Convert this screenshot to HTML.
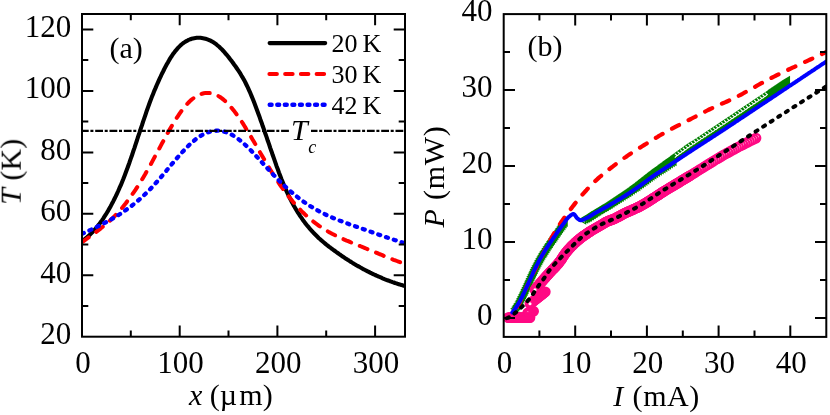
<!DOCTYPE html>
<html><head><meta charset="utf-8"><title>fig</title>
<style>html,body{margin:0;padding:0;background:#fff;}body{width:830px;height:415px;overflow:hidden;font-family:"Liberation Serif",serif;}svg{display:block;}</style></head>
<body>
<svg width="830" height="415" viewBox="0 0 830 415">
<rect width="830" height="415" fill="#fff"/>
<defs><filter id="gray" x="0" y="0" width="100%" height="100%" filterUnits="userSpaceOnUse" color-interpolation-filters="sRGB"><feColorMatrix type="saturate" values="0"/></filter><clipPath id="ca"><rect x="82.0" y="14.0" width="323.0" height="322.7"/></clipPath><clipPath id="cb"><rect x="503.7" y="14.1" width="322.6" height="322.8"/></clipPath></defs>
<g clip-path="url(#ca)" fill="none" stroke-linejoin="round">
<path d="M82.0 241.2 L83.2 240.3 L84.5 239.3 L85.7 238.3 L87.0 237.3 L88.2 236.2 L89.5 235.1 L90.7 233.9 L92.0 232.6 L93.2 231.3 L94.5 229.9 L95.7 228.5 L97.0 227.0 L98.2 225.4 L99.5 223.8 L100.7 222.1 L102.0 220.4 L103.2 218.6 L104.4 216.7 L105.7 214.7 L106.9 212.7 L108.2 210.6 L109.4 208.4 L110.7 206.2 L111.9 203.8 L113.2 201.4 L114.4 199.0 L115.7 196.4 L116.9 193.8 L118.2 191.0 L119.4 188.2 L120.7 185.4 L121.9 182.4 L123.2 179.3 L124.4 176.2 L125.6 173.0 L126.9 169.6 L128.1 166.2 L129.4 162.7 L130.6 159.1 L131.9 155.5 L133.1 151.8 L134.4 148.1 L135.6 144.3 L136.9 140.5 L138.1 136.7 L139.4 132.9 L140.6 129.1 L141.9 125.4 L143.1 121.6 L144.4 117.9 L145.6 114.3 L146.8 110.7 L148.1 107.1 L149.3 103.7 L150.6 100.3 L151.8 97.1 L153.1 93.9 L154.3 90.8 L155.6 87.9 L156.8 85.0 L158.1 82.1 L159.3 79.4 L160.6 76.7 L161.8 74.0 L163.1 71.5 L164.3 69.0 L165.6 66.6 L166.8 64.3 L168.1 62.1 L169.3 59.9 L170.5 57.9 L171.8 56.0 L173.0 54.1 L174.3 52.4 L175.5 50.8 L176.8 49.3 L178.0 47.9 L179.3 46.6 L180.5 45.4 L181.8 44.3 L183.0 43.3 L184.3 42.4 L185.5 41.6 L186.8 40.9 L188.0 40.2 L189.3 39.7 L190.5 39.2 L191.7 38.8 L193.0 38.4 L194.2 38.2 L195.5 38.0 L196.7 37.8 L198.0 37.8 L199.2 37.8 L200.5 37.8 L201.7 38.0 L203.0 38.2 L204.2 38.4 L205.5 38.7 L206.7 39.1 L208.0 39.6 L209.2 40.1 L210.5 40.7 L211.7 41.3 L212.9 42.0 L214.2 42.8 L215.4 43.7 L216.7 44.7 L217.9 45.7 L219.2 46.8 L220.4 48.0 L221.7 49.2 L222.9 50.5 L224.2 51.9 L225.4 53.3 L226.7 54.8 L227.9 56.3 L229.2 57.9 L230.4 59.5 L231.7 61.1 L232.9 62.8 L234.1 64.5 L235.4 66.2 L236.6 68.0 L237.9 69.9 L239.1 71.7 L240.4 73.7 L241.6 75.8 L242.9 77.9 L244.1 80.1 L245.4 82.5 L246.6 85.0 L247.9 87.6 L249.1 90.3 L250.4 93.2 L251.6 96.1 L252.9 99.2 L254.1 102.3 L255.3 105.5 L256.6 108.9 L257.8 112.2 L259.1 115.7 L260.3 119.2 L261.6 122.7 L262.8 126.3 L264.1 129.9 L265.3 133.5 L266.6 137.1 L267.8 140.8 L269.1 144.4 L270.3 148.1 L271.6 151.7 L272.8 155.3 L274.1 158.9 L275.3 162.4 L276.5 165.9 L277.8 169.3 L279.0 172.7 L280.3 176.0 L281.5 179.2 L282.8 182.3 L284.0 185.4 L285.3 188.3 L286.5 191.1 L287.8 193.9 L289.0 196.5 L290.3 199.0 L291.5 201.4 L292.8 203.7 L294.0 206.0 L295.3 208.2 L296.5 210.2 L297.7 212.3 L299.0 214.2 L300.2 216.1 L301.5 217.9 L302.7 219.7 L304.0 221.4 L305.2 223.1 L306.5 224.7 L307.7 226.2 L309.0 227.7 L310.2 229.2 L311.5 230.6 L312.7 231.9 L314.0 233.3 L315.2 234.5 L316.5 235.8 L317.7 237.0 L318.9 238.2 L320.2 239.3 L321.4 240.4 L322.7 241.5 L323.9 242.5 L325.2 243.6 L326.4 244.6 L327.7 245.6 L328.9 246.6 L330.2 247.5 L331.4 248.5 L332.7 249.4 L333.9 250.3 L335.2 251.2 L336.4 252.1 L337.7 253.0 L338.9 253.9 L340.2 254.8 L341.4 255.6 L342.6 256.5 L343.9 257.3 L345.1 258.2 L346.4 259.0 L347.6 259.8 L348.9 260.6 L350.1 261.4 L351.4 262.1 L352.6 262.9 L353.9 263.7 L355.1 264.4 L356.4 265.2 L357.6 265.9 L358.9 266.6 L360.1 267.3 L361.4 268.0 L362.6 268.7 L363.8 269.4 L365.1 270.0 L366.3 270.7 L367.6 271.3 L368.8 271.9 L370.1 272.6 L371.3 273.2 L372.6 273.8 L373.8 274.4 L375.1 275.0 L376.3 275.5 L377.6 276.1 L378.8 276.7 L380.1 277.2 L381.3 277.7 L382.6 278.3 L383.8 278.8 L385.0 279.3 L386.3 279.8 L387.5 280.3 L388.8 280.7 L390.0 281.2 L391.3 281.6 L392.5 282.1 L393.8 282.5 L395.0 283.0 L396.3 283.4 L397.5 283.8 L398.8 284.2 L400.0 284.6 L401.3 284.9 L402.5 285.3 L403.8 285.7 L405.0 286.0" stroke="#000" stroke-width="4.1"/>
<path d="M82.0 242.2 L83.6 241.1 L85.2 239.9 L86.9 238.7 L88.5 237.5 L90.1 236.4 L91.7 235.2 L93.4 234.0 L95.0 232.8 L96.6 231.6 L98.2 230.4 L99.9 229.1 L101.5 227.8 L103.1 226.5 L104.7 225.2 L106.3 223.8 L108.0 222.4 L109.6 220.9 L111.2 219.4 L112.8 217.9 L114.5 216.3 L116.1 214.6 L117.7 212.9 L119.3 211.1 L121.0 209.2 L122.6 207.3 L124.2 205.3 L125.8 203.3 L127.4 201.1 L129.1 199.0 L130.7 196.7 L132.3 194.4 L133.9 192.1 L135.6 189.7 L137.2 187.2 L138.8 184.6 L140.4 182.1 L142.1 179.4 L143.7 176.7 L145.3 174.0 L146.9 171.1 L148.5 168.3 L150.2 165.4 L151.8 162.4 L153.4 159.4 L155.0 156.4 L156.7 153.4 L158.3 150.4 L159.9 147.4 L161.5 144.3 L163.2 141.3 L164.8 138.4 L166.4 135.4 L168.0 132.5 L169.6 129.6 L171.3 126.8 L172.9 124.1 L174.5 121.4 L176.1 118.8 L177.8 116.3 L179.4 113.9 L181.0 111.6 L182.6 109.4 L184.3 107.4 L185.9 105.4 L187.5 103.6 L189.1 102.0 L190.7 100.4 L192.4 99.0 L194.0 97.8 L195.6 96.7 L197.2 95.7 L198.9 94.9 L200.5 94.2 L202.1 93.7 L203.7 93.3 L205.4 93.1 L207.0 92.9 L208.6 93.0 L210.2 93.1 L211.8 93.4 L213.5 93.9 L215.1 94.5 L216.7 95.2 L218.3 96.0 L220.0 97.0 L221.6 98.1 L223.2 99.4 L224.8 100.7 L226.5 102.3 L228.1 103.9 L229.7 105.6 L231.3 107.5 L232.9 109.5 L234.6 111.6 L236.2 113.7 L237.8 116.0 L239.4 118.3 L241.1 120.7 L242.7 123.2 L244.3 125.8 L245.9 128.4 L247.6 131.0 L249.2 133.7 L250.8 136.4 L252.4 139.2 L254.1 142.0 L255.7 144.8 L257.3 147.6 L258.9 150.4 L260.5 153.2 L262.2 156.1 L263.8 158.8 L265.4 161.6 L267.0 164.4 L268.7 167.1 L270.3 169.8 L271.9 172.4 L273.5 175.0 L275.2 177.5 L276.8 180.0 L278.4 182.4 L280.0 184.8 L281.6 187.1 L283.3 189.3 L284.9 191.6 L286.5 193.7 L288.1 195.8 L289.8 197.8 L291.4 199.8 L293.0 201.8 L294.6 203.6 L296.3 205.5 L297.9 207.3 L299.5 209.0 L301.1 210.7 L302.7 212.3 L304.4 213.8 L306.0 215.4 L307.6 216.8 L309.2 218.3 L310.9 219.6 L312.5 220.9 L314.1 222.2 L315.7 223.4 L317.4 224.6 L319.0 225.8 L320.6 226.9 L322.2 228.0 L323.8 229.0 L325.5 230.0 L327.1 230.9 L328.7 231.9 L330.3 232.8 L332.0 233.7 L333.6 234.5 L335.2 235.3 L336.8 236.1 L338.5 236.9 L340.1 237.7 L341.7 238.4 L343.3 239.1 L344.9 239.9 L346.6 240.6 L348.2 241.2 L349.8 241.9 L351.4 242.6 L353.1 243.2 L354.7 243.9 L356.3 244.6 L357.9 245.2 L359.6 245.9 L361.2 246.5 L362.8 247.2 L364.4 247.8 L366.0 248.5 L367.7 249.2 L369.3 249.8 L370.9 250.5 L372.5 251.2 L374.2 251.8 L375.8 252.5 L377.4 253.2 L379.0 253.9 L380.7 254.5 L382.3 255.2 L383.9 255.9 L385.5 256.5 L387.1 257.2 L388.8 257.9 L390.4 258.5 L392.0 259.1 L393.6 259.8 L395.3 260.4 L396.9 261.0 L398.5 261.6 L400.1 262.2 L401.8 262.8 L403.4 263.4 L405.0 263.9" stroke="#ff0000" stroke-width="4.0" stroke-linecap="round" stroke-dasharray="8.3 9.3"/>
<path d="M82.0 233.9 L83.6 233.1 L85.2 232.4 L86.9 231.6 L88.5 230.9 L90.1 230.1 L91.7 229.4 L93.4 228.6 L95.0 227.8 L96.6 227.0 L98.2 226.2 L99.9 225.4 L101.5 224.6 L103.1 223.8 L104.7 222.9 L106.3 222.1 L108.0 221.2 L109.6 220.3 L111.2 219.4 L112.8 218.4 L114.5 217.5 L116.1 216.5 L117.7 215.5 L119.3 214.5 L121.0 213.4 L122.6 212.3 L124.2 211.2 L125.8 210.1 L127.4 209.0 L129.1 207.8 L130.7 206.5 L132.3 205.3 L133.9 204.0 L135.6 202.7 L137.2 201.3 L138.8 200.0 L140.4 198.5 L142.1 197.1 L143.7 195.6 L145.3 194.0 L146.9 192.5 L148.5 190.8 L150.2 189.2 L151.8 187.5 L153.4 185.7 L155.0 183.9 L156.7 182.1 L158.3 180.2 L159.9 178.4 L161.5 176.5 L163.2 174.5 L164.8 172.6 L166.4 170.7 L168.0 168.7 L169.6 166.8 L171.3 164.8 L172.9 162.9 L174.5 161.0 L176.1 159.1 L177.8 157.2 L179.4 155.3 L181.0 153.5 L182.6 151.8 L184.3 150.0 L185.9 148.3 L187.5 146.7 L189.1 145.1 L190.7 143.6 L192.4 142.1 L194.0 140.8 L195.6 139.4 L197.2 138.2 L198.9 137.1 L200.5 136.0 L202.1 135.0 L203.7 134.1 L205.4 133.4 L207.0 132.7 L208.6 132.1 L210.2 131.6 L211.8 131.3 L213.5 131.0 L215.1 130.8 L216.7 130.7 L218.3 130.7 L220.0 130.8 L221.6 131.1 L223.2 131.4 L224.8 131.8 L226.5 132.3 L228.1 132.9 L229.7 133.7 L231.3 134.5 L232.9 135.4 L234.6 136.4 L236.2 137.5 L237.8 138.6 L239.4 139.9 L241.1 141.2 L242.7 142.6 L244.3 144.0 L245.9 145.5 L247.6 147.1 L249.2 148.7 L250.8 150.3 L252.4 152.0 L254.1 153.7 L255.7 155.5 L257.3 157.2 L258.9 159.0 L260.5 160.8 L262.2 162.6 L263.8 164.4 L265.4 166.1 L267.0 167.9 L268.7 169.7 L270.3 171.4 L271.9 173.2 L273.5 174.9 L275.2 176.6 L276.8 178.2 L278.4 179.9 L280.0 181.5 L281.6 183.1 L283.3 184.6 L284.9 186.2 L286.5 187.7 L288.1 189.2 L289.8 190.6 L291.4 192.1 L293.0 193.4 L294.6 194.8 L296.3 196.1 L297.9 197.4 L299.5 198.7 L301.1 199.9 L302.7 201.1 L304.4 202.3 L306.0 203.4 L307.6 204.5 L309.2 205.5 L310.9 206.5 L312.5 207.5 L314.1 208.5 L315.7 209.4 L317.4 210.3 L319.0 211.2 L320.6 212.1 L322.2 212.9 L323.8 213.7 L325.5 214.5 L327.1 215.3 L328.7 216.0 L330.3 216.7 L332.0 217.5 L333.6 218.2 L335.2 218.8 L336.8 219.5 L338.5 220.1 L340.1 220.8 L341.7 221.4 L343.3 222.0 L344.9 222.6 L346.6 223.2 L348.2 223.8 L349.8 224.4 L351.4 225.0 L353.1 225.5 L354.7 226.1 L356.3 226.7 L357.9 227.2 L359.6 227.8 L361.2 228.4 L362.8 228.9 L364.4 229.5 L366.0 230.1 L367.7 230.7 L369.3 231.2 L370.9 231.8 L372.5 232.4 L374.2 233.0 L375.8 233.5 L377.4 234.1 L379.0 234.7 L380.7 235.3 L382.3 235.8 L383.9 236.4 L385.5 237.0 L387.1 237.5 L388.8 238.1 L390.4 238.6 L392.0 239.2 L393.6 239.7 L395.3 240.2 L396.9 240.8 L398.5 241.3 L400.1 241.8 L401.8 242.3 L403.4 242.8 L405.0 243.3" stroke="#0000ff" stroke-width="4.3" stroke-linecap="round" stroke-dasharray="2.0 6.2"/>
<path d="M80.9 130.9 H405.0" stroke="#000" stroke-width="2.2" stroke-dasharray="7.8 1.7 3 1.8"/>
</g>
<g fill="none" stroke-linecap="round">
<path d="M269.6 43.1 H325.2" stroke="#000" stroke-width="4.1"/>
<path d="M269.4 74.0 H325.2" stroke="#ff0000" stroke-width="4.0" stroke-dasharray="7.5 8.24"/>
<path d="M269.7 104.7 H325.2" stroke="#0000ff" stroke-width="4.4" stroke-dasharray="1.9 5.67"/>
</g>
<g stroke="#000" stroke-width="2.0" fill="none" stroke-linecap="butt">
<rect x="82.0" y="14.0" width="323.0" height="322.7"/>
<path d="M179.7 14.0 v11.3 M179.7 336.7 v-11.3"/>
<path d="M277.4 14.0 v11.3 M277.4 336.7 v-11.3"/>
<path d="M375.1 14.0 v11.3 M375.1 336.7 v-11.3"/>
<path d="M130.8 14.0 v6.3 M130.8 336.7 v-6.3"/>
<path d="M228.5 14.0 v6.3 M228.5 336.7 v-6.3"/>
<path d="M326.2 14.0 v6.3 M326.2 336.7 v-6.3"/>
<path d="M82.0 275.3 h11.3 M405.0 275.3 h-11.3"/>
<path d="M82.0 213.8 h11.3 M405.0 213.8 h-11.3"/>
<path d="M82.0 152.4 h11.3 M405.0 152.4 h-11.3"/>
<path d="M82.0 90.9 h11.3 M405.0 90.9 h-11.3"/>
<path d="M82.0 29.4 h11.3 M405.0 29.4 h-11.3"/>
<path d="M82.0 306.1 h6.3 M405.0 306.1 h-6.3"/>
<path d="M82.0 244.6 h6.3 M405.0 244.6 h-6.3"/>
<path d="M82.0 183.1 h6.3 M405.0 183.1 h-6.3"/>
<path d="M82.0 121.6 h6.3 M405.0 121.6 h-6.3"/>
<path d="M82.0 60.1 h6.3 M405.0 60.1 h-6.3"/>
</g>
<g clip-path="url(#cb)" fill="none" stroke-linejoin="round">
<path d="M511.4 308.7 L517.6 305.1 L517.6 312.3 ZM512.5 307.1 L518.7 303.5 L518.7 310.7 ZM513.6 305.4 L519.8 301.8 L519.8 309.0 ZM514.6 303.7 L520.8 300.1 L520.8 307.3 ZM515.6 302.0 L521.8 298.4 L521.8 305.6 ZM516.5 300.2 L522.7 296.6 L522.7 303.8 ZM517.4 298.4 L523.7 294.8 L523.7 302.0 ZM518.3 296.6 L524.5 293.0 L524.5 300.2 ZM519.2 294.8 L525.4 291.2 L525.4 298.4 ZM520.0 293.0 L526.2 289.4 L526.2 296.6 ZM520.9 291.2 L527.1 287.6 L527.1 294.8 ZM521.7 289.4 L527.9 285.8 L527.9 293.0 ZM522.6 287.6 L528.8 284.0 L528.8 291.2 ZM523.4 285.8 L529.6 282.2 L529.6 289.4 ZM524.3 283.9 L530.5 280.3 L530.5 287.5 ZM525.1 282.1 L531.3 278.5 L531.3 285.7 ZM525.9 280.3 L532.1 276.7 L532.1 283.9 ZM526.7 278.5 L532.9 274.9 L532.9 282.1 ZM527.5 276.6 L533.8 273.0 L533.8 280.2 ZM528.4 274.8 L534.6 271.2 L534.6 278.4 ZM529.2 273.0 L535.4 269.4 L535.4 276.6 ZM530.0 271.2 L536.3 267.6 L536.3 274.8 ZM530.9 269.4 L537.1 265.8 L537.1 273.0 ZM531.8 267.6 L538.0 264.0 L538.0 271.2 ZM532.7 265.8 L538.9 262.2 L538.9 269.4 ZM533.6 264.0 L539.8 260.4 L539.8 267.6 ZM534.5 262.2 L540.7 258.6 L540.7 265.8 ZM535.4 260.5 L541.7 256.9 L541.7 264.1 ZM536.4 258.7 L542.6 255.1 L542.6 262.3 ZM537.4 257.0 L543.6 253.4 L543.6 260.6 ZM538.4 255.3 L544.6 251.7 L544.6 258.9 ZM539.4 253.6 L545.7 250.0 L545.7 257.2 ZM540.5 251.9 L546.7 248.3 L546.7 255.5 ZM541.6 250.2 L547.8 246.6 L547.8 253.8 ZM542.6 248.5 L548.9 244.9 L548.9 252.1 ZM543.7 246.8 L550.0 243.2 L550.0 250.4 ZM544.8 245.1 L551.1 241.5 L551.1 248.7 ZM545.9 243.5 L552.2 239.9 L552.2 247.1 ZM547.1 241.8 L553.3 238.2 L553.3 245.4 ZM548.2 240.2 L554.4 236.6 L554.4 243.8 ZM549.3 238.5 L555.6 234.9 L555.6 242.1 ZM550.5 236.9 L556.7 233.3 L556.7 240.5 ZM551.6 235.2 L557.8 231.6 L557.8 238.8 ZM552.8 233.6 L559.0 230.0 L559.0 237.2 ZM553.9 232.0 L560.1 228.4 L560.1 235.6 ZM555.1 230.3 L561.3 226.7 L561.3 233.9 ZM556.2 228.7 L562.4 225.1 L562.4 232.3 ZM557.4 227.1 L563.6 223.5 L563.6 230.7 ZM558.6 225.4 L564.8 221.8 L564.8 229.0 ZM559.7 223.8 L566.0 220.2 L566.0 227.4 ZM560.9 222.2 L567.1 218.6 L567.1 225.8 ZM579.4 220.1 L585.6 216.5 L585.6 223.7 ZM581.3 219.1 L587.5 215.5 L587.5 222.7 ZM583.2 218.0 L589.4 214.4 L589.4 221.6 ZM585.1 216.9 L591.3 213.3 L591.3 220.5 ZM586.9 215.7 L593.2 212.1 L593.2 219.3 ZM588.8 214.4 L595.0 210.8 L595.0 218.0 ZM590.6 213.2 L596.8 209.6 L596.8 216.8 ZM592.4 212.0 L598.7 208.4 L598.7 215.6 ZM594.3 210.9 L600.5 207.3 L600.5 214.5 ZM596.2 209.7 L602.4 206.1 L602.4 213.3 ZM598.1 208.6 L604.3 205.0 L604.3 212.2 ZM600.0 207.5 L606.2 203.9 L606.2 211.1 ZM601.9 206.4 L608.1 202.8 L608.1 210.0 ZM603.8 205.3 L610.0 201.7 L610.0 208.9 ZM605.7 204.2 L611.9 200.6 L611.9 207.8 ZM607.6 203.0 L613.8 199.4 L613.8 206.6 ZM609.4 201.9 L615.7 198.3 L615.7 205.5 ZM611.3 200.7 L617.5 197.1 L617.5 204.3 ZM613.2 199.6 L619.4 196.0 L619.4 203.2 ZM615.0 198.4 L621.3 194.8 L621.3 202.0 ZM616.9 197.2 L623.1 193.6 L623.1 200.8 ZM618.8 196.1 L625.0 192.5 L625.0 199.7 ZM620.6 194.9 L626.9 191.3 L626.9 198.5 ZM622.5 193.7 L628.7 190.1 L628.7 197.3 ZM624.3 192.5 L630.6 188.9 L630.6 196.1 ZM626.2 191.3 L632.4 187.7 L632.4 194.9 ZM628.0 190.1 L634.2 186.5 L634.2 193.7 ZM629.8 188.9 L636.1 185.3 L636.1 192.5 ZM631.7 187.6 L637.9 184.0 L637.9 191.2 ZM633.5 186.4 L639.7 182.8 L639.7 190.0 ZM635.3 185.1 L641.5 181.5 L641.5 188.7 ZM637.0 183.8 L643.3 180.2 L643.3 187.4 ZM638.8 182.5 L645.0 178.9 L645.0 186.1 ZM640.6 181.2 L646.8 177.6 L646.8 184.8 ZM642.4 179.9 L648.6 176.3 L648.6 183.5 ZM644.1 178.6 L650.4 175.0 L650.4 182.2 ZM645.9 177.3 L652.1 173.7 L652.1 180.9 ZM647.7 176.0 L653.9 172.4 L653.9 179.6 ZM649.5 174.8 L655.7 171.2 L655.7 178.4 ZM651.3 173.5 L657.5 169.9 L657.5 177.1 ZM653.1 172.3 L659.4 168.7 L659.4 175.9 ZM655.0 171.1 L661.2 167.5 L661.2 174.7 ZM656.8 169.9 L663.1 166.3 L663.1 173.5 ZM658.7 168.7 L664.9 165.1 L664.9 172.3 ZM660.5 167.5 L666.7 163.9 L666.7 171.1 ZM662.3 166.3 L668.6 162.7 L668.6 169.9 ZM664.2 165.0 L670.4 161.4 L670.4 168.6 ZM666.0 163.8 L672.2 160.2 L672.2 167.4 ZM667.8 162.6 L674.1 159.0 L674.1 166.2 ZM669.7 161.4 L675.9 157.8 L675.9 165.0 Z" stroke="#008000" stroke-width="1.3" fill="#fff" stroke-linejoin="miter"/>
<path d="M783.2 80.5 L789.4 76.9 L789.4 84.1 ZM782.4 81.0 L788.6 77.4 L788.6 84.6 ZM781.7 81.6 L787.9 78.0 L787.9 85.2 ZM780.9 82.1 L787.2 78.5 L787.2 85.7 ZM780.2 82.6 L786.4 79.0 L786.4 86.2 ZM779.4 83.1 L785.7 79.5 L785.7 86.7 ZM778.7 83.6 L784.9 80.0 L784.9 87.2 ZM778.0 84.1 L784.2 80.5 L784.2 87.7 ZM777.2 84.6 L783.4 81.0 L783.4 88.2 ZM776.5 85.1 L782.7 81.5 L782.7 88.7 ZM775.7 85.6 L781.9 82.0 L781.9 89.2 ZM775.0 86.1 L781.2 82.5 L781.2 89.7 ZM774.2 86.6 L780.5 83.0 L780.5 90.2 ZM773.5 87.1 L779.7 83.5 L779.7 90.7 ZM772.7 87.6 L779.0 84.0 L779.0 91.2 ZM772.0 88.1 L778.2 84.5 L778.2 91.7 ZM771.3 88.6 L777.5 85.0 L777.5 92.2 ZM770.5 89.1 L776.7 85.5 L776.7 92.7 ZM769.8 89.6 L776.0 86.0 L776.0 93.2 ZM769.0 90.1 L775.2 86.5 L775.2 93.7 ZM768.3 90.7 L774.5 87.1 L774.5 94.3 ZM767.5 91.2 L773.7 87.6 L773.7 94.8 ZM766.8 91.7 L773.0 88.1 L773.0 95.3 ZM766.0 92.2 L772.3 88.6 L772.3 95.8 ZM765.3 92.7 L771.5 89.1 L771.5 96.3 ZM764.5 93.2 L770.8 89.6 L770.8 96.8 ZM763.8 93.7 L770.0 90.1 L770.0 97.3 ZM763.0 94.2 L769.3 90.6 L769.3 97.8 ZM762.3 94.7 L768.5 91.1 L768.5 98.3 ZM761.6 95.2 L767.8 91.6 L767.8 98.8 ZM760.8 95.7 L767.0 92.1 L767.0 99.3 ZM760.1 96.2 L766.3 92.6 L766.3 99.8 ZM759.3 96.7 L765.5 93.1 L765.5 100.3 ZM758.6 97.2 L764.8 93.6 L764.8 100.8 ZM757.8 97.7 L764.0 94.1 L764.0 101.3 ZM757.1 98.2 L763.3 94.6 L763.3 101.8 ZM756.3 98.7 L762.6 95.1 L762.6 102.3 ZM755.6 99.2 L761.8 95.6 L761.8 102.8 ZM754.8 99.7 L761.1 96.1 L761.1 103.3 ZM754.1 100.2 L760.3 96.6 L760.3 103.8 ZM753.3 100.7 L759.6 97.1 L759.6 104.3 ZM752.6 101.2 L758.8 97.6 L758.8 104.8 ZM751.9 101.7 L758.1 98.1 L758.1 105.3 ZM751.1 102.2 L757.3 98.6 L757.3 105.8 ZM750.4 102.7 L756.6 99.1 L756.6 106.3 ZM749.6 103.2 L755.8 99.6 L755.8 106.8 ZM748.9 103.7 L755.1 100.1 L755.1 107.3 ZM748.1 104.2 L754.4 100.6 L754.4 107.8 ZM747.4 104.8 L753.6 101.2 L753.6 108.4 ZM746.6 105.3 L752.9 101.7 L752.9 108.9 ZM745.9 105.8 L752.1 102.2 L752.1 109.4 ZM745.1 106.3 L751.4 102.7 L751.4 109.9 ZM744.4 106.8 L750.6 103.2 L750.6 110.4 ZM743.7 107.3 L749.9 103.7 L749.9 110.9 ZM742.9 107.8 L749.1 104.2 L749.1 111.4 ZM742.2 108.3 L748.4 104.7 L748.4 111.9 ZM741.4 108.8 L747.6 105.2 L747.6 112.4 ZM740.7 109.3 L746.9 105.7 L746.9 112.9 ZM739.9 109.8 L746.2 106.2 L746.2 113.4 ZM739.2 110.3 L745.4 106.7 L745.4 113.9 ZM738.4 110.8 L744.7 107.2 L744.7 114.4 ZM737.7 111.3 L743.9 107.7 L743.9 114.9 ZM736.9 111.8 L743.2 108.2 L743.2 115.4 ZM736.2 112.3 L742.4 108.7 L742.4 115.9 ZM735.4 112.8 L741.7 109.2 L741.7 116.4 ZM734.7 113.3 L740.9 109.7 L740.9 116.9 ZM734.0 113.8 L740.2 110.2 L740.2 117.4 ZM733.2 114.3 L739.4 110.7 L739.4 117.9 ZM732.5 114.8 L738.7 111.2 L738.7 118.4 ZM731.7 115.3 L737.9 111.7 L737.9 118.9 ZM731.0 115.8 L737.2 112.2 L737.2 119.4 ZM730.2 116.3 L736.4 112.7 L736.4 119.9 ZM729.5 116.8 L735.7 113.2 L735.7 120.4 ZM728.7 117.3 L735.0 113.7 L735.0 120.9 ZM728.0 117.8 L734.2 114.2 L734.2 121.4 ZM727.2 118.3 L733.5 114.7 L733.5 121.9 ZM726.5 118.8 L732.7 115.2 L732.7 122.4 ZM725.7 119.3 L732.0 115.7 L732.0 122.9 ZM725.0 119.8 L731.2 116.2 L731.2 123.4 ZM724.2 120.3 L730.5 116.7 L730.5 123.9 ZM723.5 120.8 L729.7 117.2 L729.7 124.4 ZM722.7 121.3 L729.0 117.7 L729.0 124.9 ZM722.0 121.8 L728.2 118.2 L728.2 125.4 ZM721.2 122.3 L727.5 118.7 L727.5 125.9 ZM720.5 122.8 L726.7 119.2 L726.7 126.4 ZM719.7 123.3 L726.0 119.7 L726.0 126.9 ZM719.0 123.8 L725.2 120.2 L725.2 127.4 ZM718.3 124.3 L724.5 120.7 L724.5 127.9 ZM717.5 124.8 L723.7 121.2 L723.7 128.4 ZM716.8 125.3 L723.0 121.7 L723.0 128.9 ZM716.0 125.8 L722.2 122.2 L722.2 129.4 ZM715.3 126.3 L721.5 122.7 L721.5 129.9 ZM714.5 126.8 L720.7 123.2 L720.7 130.4 ZM713.8 127.3 L720.0 123.7 L720.0 130.9 ZM713.0 127.8 L719.2 124.2 L719.2 131.4 ZM712.3 128.3 L718.5 124.7 L718.5 131.9 ZM711.5 128.8 L717.7 125.2 L717.7 132.4 ZM710.8 129.3 L717.0 125.7 L717.0 132.9 ZM710.0 129.8 L716.2 126.2 L716.2 133.4 ZM709.2 130.3 L715.5 126.7 L715.5 133.9 ZM708.5 130.8 L714.7 127.2 L714.7 134.4 ZM707.7 131.3 L714.0 127.7 L714.0 134.9 ZM707.0 131.8 L713.2 128.2 L713.2 135.4 ZM706.2 132.3 L712.5 128.7 L712.5 135.9 ZM705.5 132.8 L711.7 129.2 L711.7 136.4 ZM704.7 133.3 L711.0 129.7 L711.0 136.9 ZM704.0 133.8 L710.2 130.2 L710.2 137.4 ZM703.2 134.3 L709.5 130.7 L709.5 137.9 ZM702.5 134.7 L708.7 131.1 L708.7 138.3 ZM701.7 135.2 L708.0 131.6 L708.0 138.8 ZM701.0 135.7 L707.2 132.1 L707.2 139.3 ZM700.2 136.2 L706.4 132.6 L706.4 139.8 ZM699.5 136.7 L705.7 133.1 L705.7 140.3 ZM698.7 137.2 L704.9 133.6 L704.9 140.8 ZM698.0 137.7 L704.2 134.1 L704.2 141.3 ZM697.2 138.2 L703.4 134.6 L703.4 141.8 ZM696.5 138.7 L702.7 135.1 L702.7 142.3 ZM695.7 139.2 L701.9 135.6 L701.9 142.8 ZM694.9 139.7 L701.2 136.1 L701.2 143.3 ZM694.2 140.2 L700.4 136.6 L700.4 143.8 ZM693.4 140.7 L699.7 137.1 L699.7 144.3 ZM692.7 141.2 L698.9 137.6 L698.9 144.8 ZM691.9 141.7 L698.2 138.1 L698.2 145.3 ZM691.2 142.2 L697.4 138.6 L697.4 145.8 ZM690.4 142.6 L696.7 139.0 L696.7 146.2 ZM689.7 143.1 L695.9 139.5 L695.9 146.7 ZM688.9 143.6 L695.2 140.0 L695.2 147.2 ZM688.2 144.1 L694.4 140.5 L694.4 147.7 ZM687.4 144.6 L693.7 141.0 L693.7 148.2 ZM686.7 145.1 L692.9 141.5 L692.9 148.7 ZM685.9 145.6 L692.2 142.0 L692.2 149.2 ZM685.2 146.1 L691.4 142.5 L691.4 149.7 ZM684.5 146.7 L690.7 143.1 L690.7 150.3 ZM683.7 147.2 L690.0 143.6 L690.0 150.8 ZM683.0 147.7 L689.2 144.1 L689.2 151.3 ZM682.3 148.2 L688.5 144.6 L688.5 151.8 ZM681.5 148.8 L687.8 145.2 L687.8 152.4 ZM680.8 149.3 L687.0 145.7 L687.0 152.9 ZM680.1 149.8 L686.3 146.2 L686.3 153.4 ZM679.4 150.3 L685.6 146.7 L685.6 153.9 ZM678.6 150.9 L684.8 147.3 L684.8 154.5 ZM677.9 151.4 L684.1 147.8 L684.1 155.0 ZM677.2 151.9 L683.4 148.3 L683.4 155.5 ZM676.4 152.4 L682.7 148.8 L682.7 156.0 ZM675.7 153.0 L681.9 149.4 L681.9 156.6 ZM675.0 153.5 L681.2 149.9 L681.2 157.1 ZM674.2 154.0 L680.5 150.4 L680.5 157.6 ZM673.5 154.6 L679.7 151.0 L679.7 158.2 ZM672.8 155.1 L679.0 151.5 L679.0 158.7 ZM672.1 155.6 L678.3 152.0 L678.3 159.2 ZM671.3 156.1 L677.6 152.5 L677.6 159.7 ZM670.6 156.7 L676.8 153.1 L676.8 160.3 ZM669.9 157.2 L676.1 153.6 L676.1 160.8 ZM669.1 157.7 L675.4 154.1 L675.4 161.3 ZM668.4 158.2 L674.6 154.6 L674.6 161.8 ZM667.7 158.8 L673.9 155.2 L673.9 162.4 ZM666.9 159.3 L673.2 155.7 L673.2 162.9 ZM666.2 159.8 L672.4 156.2 L672.4 163.4 ZM665.5 160.4 L671.7 156.8 L671.7 164.0 ZM664.8 160.9 L671.0 157.3 L671.0 164.5 ZM664.0 161.4 L670.3 157.8 L670.3 165.0 ZM663.3 161.9 L669.5 158.3 L669.5 165.5 ZM662.6 162.5 L668.8 158.9 L668.8 166.1 ZM661.8 163.0 L668.1 159.4 L668.1 166.6 ZM661.1 163.5 L667.3 159.9 L667.3 167.1 ZM660.4 164.1 L666.6 160.5 L666.6 167.7 ZM659.7 164.6 L665.9 161.0 L665.9 168.2 ZM658.9 165.1 L665.2 161.5 L665.2 168.7 ZM658.2 165.7 L664.4 162.1 L664.4 169.3 ZM657.5 166.2 L663.7 162.6 L663.7 169.8 ZM656.8 166.7 L663.0 163.1 L663.0 170.3 ZM656.0 167.2 L662.3 163.6 L662.3 170.8 ZM655.3 167.8 L661.5 164.2 L661.5 171.4 ZM654.6 168.3 L660.8 164.7 L660.8 171.9 ZM653.8 168.8 L660.1 165.2 L660.1 172.4 ZM653.1 169.4 L659.4 165.8 L659.4 173.0 ZM652.4 169.9 L658.6 166.3 L658.6 173.5 ZM651.7 170.4 L657.9 166.8 L657.9 174.0 ZM651.0 171.0 L657.2 167.4 L657.2 174.6 ZM650.2 171.5 L656.5 167.9 L656.5 175.1 ZM649.5 172.1 L655.7 168.5 L655.7 175.7 ZM648.8 172.6 L655.0 169.0 L655.0 176.2 ZM648.1 173.2 L654.3 169.6 L654.3 176.8 ZM647.4 173.7 L653.6 170.1 L653.6 177.3 ZM646.7 174.3 L652.9 170.7 L652.9 177.9 ZM646.0 174.8 L652.2 171.2 L652.2 178.4 ZM645.3 175.4 L651.5 171.8 L651.5 179.0 ZM644.6 175.9 L650.8 172.3 L650.8 179.5 ZM643.9 176.5 L650.1 172.9 L650.1 180.1 ZM643.1 177.1 L649.4 173.5 L649.4 180.7 ZM642.4 177.6 L648.7 174.0 L648.7 181.2 ZM641.7 178.2 L648.0 174.6 L648.0 181.8 ZM641.0 178.7 L647.3 175.1 L647.3 182.3 ZM640.3 179.3 L646.5 175.7 L646.5 182.9 ZM639.6 179.8 L645.8 176.2 L645.8 183.4 ZM638.9 180.4 L645.1 176.8 L645.1 184.0 ZM638.2 181.0 L644.4 177.4 L644.4 184.6 ZM637.5 181.5 L643.7 177.9 L643.7 185.1 ZM636.8 182.1 L643.0 178.5 L643.0 185.7 ZM636.1 182.6 L642.3 179.0 L642.3 186.2 ZM635.4 183.2 L641.6 179.6 L641.6 186.8 ZM634.6 183.7 L640.9 180.1 L640.9 187.3 ZM633.9 184.3 L640.1 180.7 L640.1 187.9 ZM633.2 184.8 L639.4 181.2 L639.4 188.4 ZM632.5 185.3 L638.7 181.7 L638.7 188.9 ZM631.8 185.9 L638.0 182.3 L638.0 189.5 ZM631.0 186.4 L637.3 182.8 L637.3 190.0 ZM630.3 186.9 L636.5 183.3 L636.5 190.5 ZM629.6 187.5 L635.8 183.9 L635.8 191.1 ZM628.8 188.0 L635.1 184.4 L635.1 191.6 ZM628.1 188.5 L634.3 184.9 L634.3 192.1 ZM627.4 189.0 L633.6 185.4 L633.6 192.6 ZM626.7 189.6 L632.9 186.0 L632.9 193.2 ZM625.9 190.1 L632.1 186.5 L632.1 193.7 ZM625.2 190.6 L631.4 187.0 L631.4 194.2 ZM624.4 191.1 L630.7 187.5 L630.7 194.7 ZM623.7 191.6 L629.9 188.0 L629.9 195.2 ZM623.0 192.1 L629.2 188.5 L629.2 195.7 ZM622.2 192.6 L628.4 189.0 L628.4 196.2 ZM621.5 193.1 L627.7 189.5 L627.7 196.7 ZM620.7 193.6 L627.0 190.0 L627.0 197.2 ZM620.0 194.2 L626.2 190.6 L626.2 197.8 ZM619.2 194.6 L625.5 191.0 L625.5 198.2 ZM618.5 195.1 L624.7 191.5 L624.7 198.7 ZM617.7 195.6 L624.0 192.0 L624.0 199.2 ZM617.0 196.1 L623.2 192.5 L623.2 199.7 ZM616.2 196.6 L622.4 193.0 L622.4 200.2 ZM615.5 197.1 L621.7 193.5 L621.7 200.7 ZM614.7 197.6 L621.0 194.0 L621.0 201.2 ZM614.0 198.1 L620.2 194.5 L620.2 201.7 ZM613.2 198.6 L619.5 195.0 L619.5 202.2 ZM612.5 199.1 L618.7 195.5 L618.7 202.7 ZM611.7 199.6 L618.0 196.0 L618.0 203.2 ZM611.0 200.1 L617.2 196.5 L617.2 203.7 ZM610.2 200.6 L616.5 197.0 L616.5 204.2 ZM609.5 201.1 L615.7 197.5 L615.7 204.7 ZM608.7 201.6 L614.9 198.0 L614.9 205.2 ZM608.0 202.1 L614.2 198.5 L614.2 205.7 ZM607.2 202.6 L613.4 199.0 L613.4 206.2 ZM606.5 203.1 L612.7 199.5 L612.7 206.7 ZM605.7 203.6 L611.9 200.0 L611.9 207.2 ZM604.9 204.0 L611.2 200.4 L611.2 207.6 ZM604.2 204.5 L610.4 200.9 L610.4 208.1 ZM603.4 205.0 L609.6 201.4 L609.6 208.6 ZM602.6 205.4 L608.9 201.8 L608.9 209.0 ZM601.9 205.9 L608.1 202.3 L608.1 209.5 ZM601.1 206.4 L607.3 202.8 L607.3 210.0 ZM600.3 206.8 L606.6 203.2 L606.6 210.4 ZM599.6 207.3 L605.8 203.7 L605.8 210.9 ZM598.8 207.8 L605.0 204.2 L605.0 211.4 ZM598.0 208.2 L604.2 204.6 L604.2 211.8 ZM597.2 208.7 L603.5 205.1 L603.5 212.3 ZM596.5 209.2 L602.7 205.6 L602.7 212.8 ZM595.7 209.6 L601.9 206.0 L601.9 213.2 ZM594.9 210.1 L601.1 206.5 L601.1 213.7 ZM594.1 210.5 L600.4 206.9 L600.4 214.1 ZM593.4 211.0 L599.6 207.4 L599.6 214.6 ZM592.6 211.5 L598.8 207.9 L598.8 215.1 ZM591.8 211.9 L598.1 208.3 L598.1 215.5 ZM591.1 212.4 L597.3 208.8 L597.3 216.0 ZM590.3 212.9 L596.5 209.3 L596.5 216.5 ZM589.5 213.4 L595.8 209.8 L595.8 217.0 ZM588.8 213.9 L595.0 210.3 L595.0 217.5 ZM588.0 214.4 L594.3 210.8 L594.3 218.0 ZM587.3 214.9 L593.5 211.3 L593.5 218.5 ZM586.5 215.3 L592.8 211.7 L592.8 218.9 ZM585.8 215.8 L592.0 212.2 L592.0 219.4 ZM585.0 216.3 L591.2 212.7 L591.2 219.9 ZM584.2 216.8 L590.5 213.2 L590.5 220.4 ZM583.5 217.2 L589.7 213.6 L589.7 220.8 ZM582.7 217.6 L588.9 214.0 L588.9 221.2 ZM581.9 218.0 L588.1 214.4 L588.1 221.6 Z" stroke="#008000" stroke-width="1.3" fill="#fff" stroke-linejoin="miter"/>
<path d="M674.80 153.55 l2.3 2.0 l-2.3 2.0M677.47 151.62 l2.3 2.0 l-2.3 2.0M680.15 149.69 l2.3 2.0 l-2.3 2.0M682.83 147.76 l2.3 2.0 l-2.3 2.0M685.51 145.83 l2.3 2.0 l-2.3 2.0M688.19 143.91 l2.3 2.0 l-2.3 2.0M690.93 142.07 l2.3 2.0 l-2.3 2.0M693.68 140.25 l2.3 2.0 l-2.3 2.0M696.44 138.43 l2.3 2.0 l-2.3 2.0M699.20 136.62 l2.3 2.0 l-2.3 2.0M701.96 134.81 l2.3 2.0 l-2.3 2.0M704.72 133.00 l2.3 2.0 l-2.3 2.0M707.48 131.20 l2.3 2.0 l-2.3 2.0M710.23 129.38 l2.3 2.0 l-2.3 2.0M712.99 127.57 l2.3 2.0 l-2.3 2.0M715.75 125.75 l2.3 2.0 l-2.3 2.0M718.50 123.93 l2.3 2.0 l-2.3 2.0M721.24 122.10 l2.3 2.0 l-2.3 2.0M723.99 120.27 l2.3 2.0 l-2.3 2.0M726.73 118.43 l2.3 2.0 l-2.3 2.0M729.47 116.60 l2.3 2.0 l-2.3 2.0M732.21 114.76 l2.3 2.0 l-2.3 2.0M734.95 112.92 l2.3 2.0 l-2.3 2.0M737.69 111.08 l2.3 2.0 l-2.3 2.0M740.43 109.23 l2.3 2.0 l-2.3 2.0M743.16 107.39 l2.3 2.0 l-2.3 2.0M745.90 105.54 l2.3 2.0 l-2.3 2.0M748.63 103.69 l2.3 2.0 l-2.3 2.0M751.37 101.85 l2.3 2.0 l-2.3 2.0M754.10 100.00 l2.3 2.0 l-2.3 2.0M756.84 98.15 l2.3 2.0 l-2.3 2.0M759.57 96.30 l2.3 2.0 l-2.3 2.0M762.30 94.46 l2.3 2.0 l-2.3 2.0M765.04 92.61 l2.3 2.0 l-2.3 2.0" stroke="#fff" stroke-width="1.1" fill="none" stroke-linejoin="miter"/>
<path d="M504.0 318.5 L506.2 317.7 L508.2 316.8 L510.0 315.6 L511.6 314.3 L513.2 312.9 L514.6 311.3 L515.8 309.6 L517.0 307.8 L518.1 305.9 L519.2 304.0 L520.1 302.0 L521.0 300.0 L521.9 297.9 L522.8 295.8 L523.7 293.8 L524.6 291.7 L525.5 289.7 L526.4 287.7 L527.3 285.7 L528.2 283.8 L529.2 281.8 L530.1 279.9 L531.1 277.9 L532.0 276.0 L533.0 274.1 L533.9 272.2 L534.9 270.2 L535.8 268.3 L536.8 266.3 L537.8 264.4 L538.7 262.5 L539.7 260.5 L540.7 258.6 L541.6 256.6 L542.6 254.7 L543.6 252.7 L544.6 250.8 L545.6 248.9 L546.6 246.9 L547.6 245.0 L548.7 243.1 L549.7 241.2 L550.8 239.3 L551.8 237.4 L552.9 235.5 L554.0 233.6 L555.1 231.8 L556.3 229.9 L557.4 228.1 L558.6 226.2 L559.7 224.4 L560.9 222.6 L562.2 220.8 L563.4 219.0 L564.7 217.3 L565.9 215.5 L567.2 213.8 L568.5 212.0 L569.8 210.3 L571.1 208.6 L572.5 206.8 L573.8 205.1 L575.1 203.4 L576.5 201.7 L577.9 200.0 L579.2 198.4 L580.6 196.7 L582.0 195.0 L583.5 193.4 L584.9 191.8 L586.4 190.2 L587.8 188.6 L589.3 187.0 L590.8 185.4 L592.4 183.9 L593.9 182.4 L595.5 180.8 L597.1 179.4 L598.7 177.9 L600.3 176.5 L602.0 175.1 L603.6 173.7 L605.3 172.3 L607.0 171.0 L608.7 169.6 L610.4 168.3 L612.2 167.0 L613.9 165.6 L615.6 164.3 L617.4 163.0 L619.1 161.7 L620.9 160.5 L622.6 159.2 L624.4 157.9 L626.2 156.7 L628.0 155.4 L629.7 154.2 L631.6 153.0 L633.4 151.8 L635.2 150.6 L637.0 149.5 L638.9 148.3 L640.7 147.2 L642.6 146.0 L644.4 144.9 L646.3 143.8 L648.1 142.6 L650.0 141.5 L651.8 140.4 L653.7 139.2 L655.5 138.1 L657.4 137.0 L659.2 135.8 L661.1 134.7 L663.0 133.7 L664.9 132.6 L666.8 131.5 L668.7 130.5 L670.6 129.4 L672.5 128.4 L674.4 127.4 L676.3 126.4 L678.3 125.4 L680.2 124.4 L682.1 123.4 L684.1 122.4 L686.0 121.5 L687.9 120.5 L689.9 119.5 L691.8 118.5 L693.7 117.5 L695.7 116.5 L697.6 115.5 L699.5 114.5 L701.4 113.5 L703.4 112.5 L705.3 111.5 L707.2 110.5 L709.2 109.5 L711.1 108.6 L713.1 107.7 L715.1 106.8 L717.0 105.9 L719.0 105.0 L721.0 104.1 L723.0 103.2 L725.0 102.4 L727.0 101.5 L728.9 100.6 L730.9 99.6 L732.9 98.7 L734.8 97.7 L736.8 96.8 L738.7 95.8 L740.6 94.8 L742.5 93.8 L744.4 92.7 L746.3 91.7 L748.2 90.6 L750.1 89.6 L752.0 88.5 L753.9 87.4 L755.8 86.4 L757.7 85.3 L759.6 84.2 L761.5 83.2 L763.4 82.2 L765.3 81.1 L767.2 80.1 L769.2 79.1 L771.1 78.1 L773.0 77.1 L775.0 76.2 L776.9 75.2 L778.9 74.2 L780.8 73.3 L782.8 72.3 L784.7 71.4 L786.7 70.5 L788.7 69.5 L790.6 68.6 L792.6 67.7 L794.6 66.8 L796.5 65.9 L798.5 65.0 L800.5 64.0 L802.5 63.1 L804.4 62.2 L806.4 61.3 L808.4 60.4 L810.3 59.5 L812.3 58.6 L814.3 57.6 L816.2 56.7 L818.2 55.8 L820.1 54.8 L822.1 53.9 L824.1 53.0 L826.0 52.0" stroke="#ff0000" stroke-width="4.2" stroke-linecap="round" stroke-dasharray="7.9 10.72" stroke-dashoffset="0.3"/>
<g stroke="#ff0a84" stroke-width="2.3" fill="#fff">
<circle cx="756.0" cy="138.1" r="4.25"/><circle cx="753.8" cy="139.2" r="4.25"/><circle cx="751.7" cy="140.2" r="4.25"/><circle cx="749.5" cy="141.3" r="4.25"/><circle cx="747.3" cy="142.4" r="4.25"/><circle cx="745.2" cy="143.5" r="4.25"/><circle cx="743.0" cy="144.6" r="4.25"/><circle cx="740.9" cy="145.7" r="4.25"/><circle cx="738.7" cy="146.8" r="4.25"/><circle cx="736.6" cy="147.9" r="4.25"/><circle cx="734.4" cy="149.1" r="4.25"/><circle cx="732.3" cy="150.2" r="4.25"/><circle cx="730.2" cy="151.4" r="4.25"/><circle cx="728.1" cy="152.6" r="4.25"/><circle cx="726.0" cy="153.7" r="4.25"/><circle cx="723.8" cy="154.9" r="4.25"/><circle cx="721.7" cy="156.1" r="4.25"/><circle cx="719.7" cy="157.4" r="4.25"/><circle cx="717.6" cy="158.6" r="4.25"/><circle cx="715.5" cy="159.8" r="4.25"/><circle cx="713.4" cy="161.1" r="4.25"/><circle cx="711.4" cy="162.4" r="4.25"/><circle cx="709.3" cy="163.6" r="4.25"/><circle cx="707.3" cy="164.9" r="4.25"/><circle cx="705.2" cy="166.2" r="4.25"/><circle cx="703.2" cy="167.5" r="4.25"/><circle cx="701.1" cy="168.8" r="4.25"/><circle cx="699.1" cy="170.0" r="4.25"/><circle cx="697.0" cy="171.3" r="4.25"/><circle cx="694.9" cy="172.6" r="4.25"/><circle cx="692.9" cy="173.9" r="4.25"/><circle cx="690.8" cy="175.1" r="4.25"/><circle cx="689.6" cy="175.9" r="4.25"/><circle cx="688.7" cy="176.4" r="4.25"/><circle cx="687.9" cy="176.9" r="4.25"/><circle cx="687.0" cy="177.4" r="4.25"/><circle cx="686.2" cy="177.9" r="4.25"/><circle cx="685.3" cy="178.5" r="4.25"/><circle cx="684.5" cy="179.0" r="4.25"/><circle cx="683.6" cy="179.5" r="4.25"/><circle cx="682.8" cy="180.0" r="4.25"/><circle cx="681.9" cy="180.5" r="4.25"/><circle cx="681.0" cy="181.0" r="4.25"/><circle cx="680.2" cy="181.5" r="4.25"/><circle cx="679.3" cy="182.1" r="4.25"/><circle cx="678.5" cy="182.6" r="4.25"/><circle cx="677.6" cy="183.1" r="4.25"/><circle cx="676.7" cy="183.6" r="4.25"/><circle cx="675.9" cy="184.1" r="4.25"/><circle cx="675.0" cy="184.6" r="4.25"/><circle cx="674.2" cy="185.1" r="4.25"/><circle cx="673.3" cy="185.7" r="4.25"/><circle cx="672.5" cy="186.2" r="4.25"/><circle cx="671.6" cy="186.7" r="4.25"/><circle cx="670.7" cy="187.2" r="4.25"/><circle cx="669.9" cy="187.7" r="4.25"/><circle cx="669.0" cy="188.2" r="4.25"/><circle cx="668.2" cy="188.8" r="4.25"/><circle cx="667.3" cy="189.3" r="4.25"/><circle cx="666.5" cy="189.8" r="4.25"/><circle cx="665.6" cy="190.3" r="4.25"/><circle cx="664.8" cy="190.8" r="4.25"/><circle cx="663.9" cy="191.4" r="4.25"/><circle cx="663.1" cy="191.9" r="4.25"/><circle cx="662.2" cy="192.4" r="4.25"/><circle cx="661.4" cy="193.0" r="4.25"/><circle cx="660.5" cy="193.5" r="4.25"/><circle cx="659.7" cy="194.1" r="4.25"/><circle cx="658.9" cy="194.6" r="4.25"/><circle cx="658.0" cy="195.1" r="4.25"/><circle cx="657.2" cy="195.7" r="4.25"/><circle cx="656.3" cy="196.2" r="4.25"/><circle cx="655.5" cy="196.8" r="4.25"/><circle cx="654.7" cy="197.3" r="4.25"/><circle cx="653.8" cy="197.9" r="4.25"/><circle cx="653.0" cy="198.4" r="4.25"/><circle cx="652.2" cy="199.0" r="4.25"/><circle cx="651.3" cy="199.5" r="4.25"/><circle cx="650.5" cy="200.0" r="4.25"/><circle cx="649.6" cy="200.6" r="4.25"/><circle cx="648.8" cy="201.1" r="4.25"/><circle cx="647.9" cy="201.6" r="4.25"/><circle cx="647.1" cy="202.2" r="4.25"/><circle cx="646.2" cy="202.7" r="4.25"/><circle cx="645.4" cy="203.2" r="4.25"/><circle cx="644.5" cy="203.7" r="4.25"/><circle cx="643.6" cy="204.2" r="4.25"/><circle cx="642.8" cy="204.7" r="4.25"/><circle cx="641.9" cy="205.2" r="4.25"/><circle cx="641.0" cy="205.7" r="4.25"/><circle cx="640.1" cy="206.1" r="4.25"/><circle cx="639.3" cy="206.6" r="4.25"/><circle cx="638.4" cy="207.1" r="4.25"/><circle cx="637.5" cy="207.5" r="4.25"/><circle cx="636.6" cy="207.9" r="4.25"/><circle cx="635.7" cy="208.3" r="4.25"/><circle cx="634.7" cy="208.8" r="4.25"/><circle cx="633.8" cy="209.2" r="4.25"/><circle cx="632.9" cy="209.6" r="4.25"/><circle cx="632.0" cy="210.0" r="4.25"/><circle cx="631.1" cy="210.4" r="4.25"/><circle cx="630.2" cy="210.8" r="4.25"/><circle cx="629.2" cy="211.2" r="4.25"/><circle cx="628.3" cy="211.6" r="4.25"/><circle cx="627.4" cy="212.0" r="4.25"/><circle cx="626.5" cy="212.4" r="4.25"/><circle cx="625.6" cy="212.8" r="4.25"/><circle cx="624.7" cy="213.3" r="4.25"/><circle cx="623.8" cy="213.7" r="4.25"/><circle cx="622.9" cy="214.2" r="4.25"/><circle cx="622.0" cy="214.6" r="4.25"/><circle cx="621.2" cy="215.1" r="4.25"/><circle cx="620.3" cy="215.6" r="4.25"/><circle cx="619.4" cy="216.1" r="4.25"/><circle cx="618.5" cy="216.6" r="4.25"/><circle cx="617.7" cy="217.0" r="4.25"/><circle cx="616.8" cy="217.5" r="4.25"/><circle cx="615.9" cy="218.0" r="4.25"/><circle cx="615.0" cy="218.4" r="4.25"/><circle cx="614.1" cy="218.8" r="4.25"/><circle cx="613.1" cy="219.2" r="4.25"/><circle cx="612.2" cy="219.6" r="4.25"/><circle cx="611.3" cy="219.9" r="4.25"/><circle cx="610.3" cy="220.2" r="4.25"/><circle cx="609.4" cy="220.6" r="4.25"/><circle cx="608.5" cy="220.9" r="4.25"/><circle cx="607.5" cy="221.3" r="4.25"/><circle cx="606.6" cy="221.8" r="4.25"/><circle cx="605.8" cy="222.2" r="4.25"/><circle cx="604.9" cy="222.7" r="4.25"/><circle cx="604.0" cy="223.2" r="4.25"/><circle cx="603.2" cy="223.8" r="4.25"/><circle cx="602.3" cy="224.3" r="4.25"/><circle cx="601.5" cy="224.8" r="4.25"/><circle cx="600.6" cy="225.3" r="4.25"/><circle cx="599.8" cy="225.8" r="4.25"/><circle cx="598.9" cy="226.3" r="4.25"/><circle cx="598.0" cy="226.8" r="4.25"/><circle cx="597.1" cy="227.3" r="4.25"/><circle cx="596.3" cy="227.8" r="4.25"/><circle cx="595.4" cy="228.3" r="4.25"/><circle cx="594.5" cy="228.8" r="4.25"/><circle cx="593.7" cy="229.3" r="4.25"/><circle cx="592.8" cy="229.8" r="4.25"/><circle cx="591.9" cy="230.3" r="4.25"/><circle cx="591.1" cy="230.8" r="4.25"/><circle cx="590.3" cy="231.4" r="4.25"/><circle cx="589.4" cy="231.9" r="4.25"/><circle cx="588.6" cy="232.5" r="4.25"/><circle cx="587.7" cy="233.0" r="4.25"/><circle cx="586.9" cy="233.6" r="4.25"/><circle cx="586.1" cy="234.1" r="4.25"/><circle cx="585.3" cy="234.7" r="4.25"/><circle cx="584.4" cy="235.3" r="4.25"/><circle cx="583.6" cy="235.9" r="4.25"/><circle cx="582.8" cy="236.4" r="4.25"/><circle cx="582.0" cy="237.0" r="4.25"/><circle cx="581.2" cy="237.6" r="4.25"/><circle cx="580.4" cy="238.3" r="4.25"/><circle cx="579.7" cy="238.9" r="4.25"/><circle cx="578.9" cy="239.5" r="4.25"/><circle cx="578.1" cy="240.1" r="4.25"/><circle cx="577.3" cy="240.8" r="4.25"/><circle cx="576.6" cy="241.5" r="4.25"/><circle cx="575.8" cy="242.1" r="4.25"/><circle cx="575.1" cy="242.8" r="4.25"/><circle cx="574.4" cy="243.5" r="4.25"/><circle cx="573.7" cy="244.2" r="4.25"/><circle cx="572.9" cy="244.9" r="4.25"/><circle cx="572.2" cy="245.6" r="4.25"/><circle cx="571.5" cy="246.3" r="4.25"/><circle cx="570.8" cy="247.0" r="4.25"/><circle cx="570.1" cy="247.7" r="4.25"/><circle cx="569.5" cy="248.5" r="4.25"/><circle cx="568.8" cy="249.2" r="4.25"/><circle cx="568.1" cy="249.9" r="4.25"/><circle cx="567.5" cy="250.7" r="4.25"/><circle cx="566.8" cy="251.5" r="4.25"/><circle cx="566.2" cy="252.2" r="4.25"/><circle cx="565.6" cy="253.0" r="4.25"/><circle cx="565.0" cy="253.8" r="4.25"/><circle cx="564.4" cy="254.7" r="4.25"/><circle cx="563.9" cy="255.5" r="4.25"/><circle cx="563.3" cy="256.3" r="4.25"/><circle cx="562.8" cy="257.2" r="4.25"/><circle cx="562.2" cy="258.0" r="4.25"/><circle cx="561.7" cy="258.9" r="4.25"/><circle cx="561.2" cy="259.7" r="4.25"/><circle cx="560.6" cy="260.5" r="4.25"/><circle cx="560.0" cy="261.3" r="4.25"/><circle cx="559.4" cy="262.1" r="4.25"/><circle cx="558.7" cy="262.9" r="4.25"/><circle cx="558.1" cy="263.7" r="4.25"/><circle cx="557.5" cy="264.4" r="4.25"/><circle cx="556.8" cy="265.2" r="4.25"/><circle cx="556.1" cy="265.9" r="4.25"/><circle cx="555.4" cy="266.6" r="4.25"/><circle cx="554.8" cy="267.4" r="4.25"/><circle cx="554.1" cy="268.1" r="4.25"/><circle cx="553.4" cy="268.8" r="4.25"/><circle cx="552.7" cy="269.5" r="4.25"/><circle cx="552.0" cy="270.3" r="4.25"/><circle cx="551.3" cy="271.0" r="4.25"/><circle cx="550.6" cy="271.7" r="4.25"/><circle cx="549.9" cy="272.4" r="4.25"/><circle cx="549.2" cy="273.2" r="4.25"/><circle cx="548.6" cy="273.9" r="4.25"/><circle cx="547.9" cy="274.6" r="4.25"/><circle cx="547.2" cy="275.4" r="4.25"/><circle cx="546.5" cy="276.1" r="4.25"/><circle cx="545.9" cy="276.9" r="4.25"/><circle cx="545.2" cy="277.6" r="4.25"/><circle cx="544.6" cy="278.4" r="4.25"/><circle cx="543.9" cy="279.1" r="4.25"/><circle cx="543.2" cy="279.9" r="4.25"/><circle cx="542.6" cy="280.6" r="4.25"/><circle cx="541.9" cy="281.4" r="4.25"/><circle cx="541.3" cy="282.1" r="4.25"/><circle cx="540.6" cy="282.9" r="4.25"/><circle cx="540.0" cy="283.6" r="4.25"/><circle cx="539.3" cy="284.4" r="4.25"/><circle cx="538.7" cy="285.2" r="4.25"/><circle cx="538.1" cy="286.0" r="4.25"/><circle cx="537.5" cy="286.8" r="4.25"/><circle cx="536.8" cy="287.5" r="4.25"/><circle cx="536.2" cy="288.3" r="4.25"/><circle cx="535.6" cy="289.1" r="4.25"/><circle cx="535.0" cy="289.9" r="4.25"/><circle cx="545.3" cy="291.8" r="4.25"/><circle cx="544.5" cy="292.4" r="4.25"/><circle cx="543.7" cy="293.0" r="4.25"/><circle cx="542.9" cy="293.7" r="4.25"/><circle cx="542.2" cy="294.3" r="4.25"/><circle cx="541.4" cy="294.9" r="4.25"/><circle cx="540.6" cy="295.5" r="4.25"/><circle cx="539.8" cy="296.1" r="4.25"/><circle cx="539.0" cy="296.7" r="4.25"/><circle cx="538.2" cy="297.4" r="4.25"/><circle cx="537.4" cy="298.0" r="4.25"/><circle cx="536.6" cy="298.6" r="4.25"/><circle cx="535.9" cy="299.2" r="4.25"/><circle cx="535.1" cy="299.8" r="4.25"/><circle cx="534.3" cy="300.4" r="4.25"/><circle cx="533.5" cy="301.1" r="4.25"/><circle cx="532.7" cy="301.7" r="4.25"/><circle cx="531.9" cy="302.3" r="4.25"/><circle cx="531.1" cy="302.9" r="4.25"/><circle cx="530.3" cy="303.5" r="4.25"/><circle cx="530.0" cy="303.8" r="4.25"/><circle cx="533.6" cy="311.2" r="4.25"/><circle cx="532.6" cy="311.5" r="4.25"/><circle cx="531.7" cy="311.8" r="4.25"/><circle cx="530.7" cy="312.1" r="4.25"/><circle cx="529.8" cy="312.4" r="4.25"/><circle cx="528.8" cy="312.7" r="4.25"/><circle cx="527.9" cy="313.0" r="4.25"/><circle cx="527.8" cy="313.0" r="4.25"/><circle cx="530.0" cy="317.6" r="4.25"/><circle cx="529.0" cy="317.6" r="4.25"/><circle cx="528.0" cy="317.6" r="4.25"/><circle cx="527.0" cy="317.6" r="4.25"/><circle cx="526.0" cy="317.6" r="4.25"/><circle cx="525.0" cy="317.6" r="4.25"/><circle cx="524.0" cy="317.6" r="4.25"/><circle cx="523.0" cy="317.6" r="4.25"/><circle cx="522.0" cy="317.6" r="4.25"/><circle cx="521.0" cy="317.6" r="4.25"/><circle cx="520.0" cy="317.6" r="4.25"/><circle cx="519.0" cy="317.6" r="4.25"/><circle cx="518.0" cy="317.6" r="4.25"/><circle cx="517.0" cy="317.6" r="4.25"/><circle cx="516.0" cy="317.6" r="4.25"/><circle cx="515.0" cy="317.6" r="4.25"/><circle cx="514.0" cy="317.6" r="4.25"/><circle cx="513.0" cy="317.6" r="4.25"/><circle cx="512.0" cy="317.6" r="4.25"/><circle cx="511.0" cy="317.6" r="4.25"/><circle cx="510.0" cy="317.6" r="4.25"/><circle cx="509.0" cy="317.6" r="4.25"/><circle cx="508.2" cy="317.6" r="4.25"/>
<circle cx="535.0" cy="289.9" r="2.7" fill="none"/><circle cx="530.0" cy="303.8" r="2.7" fill="none"/><circle cx="527.8" cy="313.0" r="2.7" fill="none"/><circle cx="508.2" cy="317.6" r="2.7" fill="none"/>
</g>
<path d="M512.3 312.4 L512.9 311.6 L513.6 310.7 L514.2 309.9 L514.9 309.0 L515.5 308.2 L516.1 307.3 L516.7 306.5 L517.2 305.6 L517.8 304.7 L518.3 303.8 L518.9 302.9 L519.4 302.0 L519.9 301.1 L520.4 300.2 L520.8 299.2 L521.3 298.3 L521.8 297.4 L522.3 296.4 L522.7 295.5 L523.2 294.5 L523.6 293.6 L524.1 292.6 L524.5 291.7 L524.9 290.7 L525.4 289.7 L525.8 288.8 L526.3 287.8 L526.7 286.9 L527.2 285.9 L527.6 285.0 L528.1 284.0 L528.5 283.1 L528.9 282.1 L529.4 281.2 L529.8 280.2 L530.2 279.3 L530.7 278.3 L531.1 277.3 L531.5 276.4 L532.0 275.4 L532.4 274.5 L532.8 273.5 L533.3 272.5 L533.7 271.6 L534.1 270.6 L534.6 269.7 L535.0 268.7 L535.5 267.8 L536.0 266.9 L536.4 265.9 L536.9 265.0 L537.4 264.1 L537.9 263.1 L538.3 262.2 L538.8 261.3 L539.3 260.3 L539.8 259.4 L540.3 258.5 L540.9 257.6 L541.4 256.7 L541.9 255.8 L542.4 254.9 L543.0 254.0 L543.5 253.1 L544.1 252.2 L544.6 251.3 L545.2 250.4 L545.7 249.5 L546.3 248.6 L546.9 247.7 L547.5 246.8 L548.0 246.0 L548.6 245.1 L549.2 244.2 L549.8 243.3 L550.3 242.5 L550.9 241.6 L551.5 240.7 L552.1 239.9 L552.7 239.0 L553.3 238.1 L553.9 237.3 L554.5 236.4 L555.1 235.6 L555.7 234.7 L556.3 233.8 L556.9 233.0 L557.5 232.1 L558.1 231.2 L558.7 230.4 L559.3 229.5 L559.9 228.7 L560.5 227.8 L561.1 227.0 L561.8 226.1 L562.4 225.3 L563.0 224.4 L563.6 223.6 L564.3 222.7 L564.9 221.8 L565.5 221.0 L566.1 220.1 L566.7 219.2 L567.4 218.4 L568.1 217.6 L568.8 216.9 L569.6 216.3 L570.5 215.5 L571.4 214.9 L572.4 214.3 L573.3 214.0 L574.0 214.2 L574.7 214.8 L575.4 215.8 L576.0 216.8 L576.7 217.7 L577.5 218.4 L578.4 219.2 L579.3 219.8 L580.2 220.2 L581.2 220.3 L582.2 220.1 L583.1 219.7 L584.1 219.3 L585.1 218.8 L586.1 218.3 L587.1 217.8 L588.0 217.4 L588.9 216.9 L589.8 216.3 L590.7 215.8 L591.6 215.2 L592.5 214.7 L593.4 214.1 L594.3 213.6 L595.2 213.0 L596.1 212.5 L597.0 212.0 L597.9 211.5 L598.9 211.0 L599.8 210.5 L600.7 209.9 L601.6 209.4 L602.5 208.9 L603.4 208.4 L604.4 207.9 L605.3 207.4 L606.2 206.9 L607.1 206.4 L608.0 205.9 L608.9 205.4 L609.9 204.8 L610.8 204.3 L611.7 203.8 L612.6 203.3 L613.5 202.7 L614.4 202.2 L615.3 201.7 L616.2 201.1 L617.1 200.6 L618.0 200.1 L618.9 199.5 L619.8 199.0 L620.7 198.4 L621.6 197.9 L622.5 197.3 L623.4 196.8 L624.3 196.2 L625.2 195.7 L626.0 195.1 L626.9 194.5 L627.8 194.0 L628.7 193.4 L629.6 192.8 L630.4 192.2 L631.3 191.7 L632.2 191.1 L633.1 190.5 L633.9 189.9 L634.8 189.3 L635.7 188.7 L636.5 188.1 L637.4 187.5 L638.3 186.9 L639.1 186.3 L640.0 185.7 L640.8 185.1 L641.7 184.5 L642.5 183.9 L643.4 183.2 L644.2 182.6 L645.0 182.0 L645.9 181.4 L646.7 180.7 L647.6 180.1 L648.4 179.5 L649.3 178.9 L650.1 178.2 L651.0 177.6 L651.8 177.0 L652.7 176.4 L653.5 175.8 L654.4 175.2 L655.3 174.6 L656.1 174.0 L657.0 173.5 L657.9 172.9 L658.8 172.3 L659.7 171.7 L660.5 171.2 L661.4 170.6 L662.3 170.0 L663.2 169.4 L664.1 168.9 L664.9 168.3 L665.8 167.7 L666.7 167.1 L667.6 166.5 L668.4 166.0 L669.3 165.4 L670.2 164.8 L671.1 164.2 L671.9 163.6 L672.8 163.1 L673.7 162.5 L674.5 161.9 L675.4 161.3 L676.3 160.7 L677.2 160.2 L678.0 159.6 L678.9 159.0 L679.8 158.4 L680.7 157.8 L681.5 157.3 L682.4 156.7 L683.3 156.1 L684.2 155.5 L685.0 154.9 L685.9 154.4 L686.8 153.8 L687.7 153.2 L688.6 152.6 L689.4 152.1 L690.3 151.5 L691.2 150.9 L692.1 150.3 L692.9 149.8 L693.8 149.2 L694.7 148.6 L695.6 148.0 L696.5 147.5 L697.3 146.9 L698.2 146.3 L699.1 145.8 L700.0 145.2 L700.9 144.6 L701.7 144.0 L702.6 143.5 L703.5 142.9 L704.4 142.3 L705.3 141.8 L706.2 141.2 L707.0 140.6 L707.9 140.1 L708.8 139.5 L709.7 138.9 L710.6 138.3 L711.4 137.8 L712.3 137.2 L713.2 136.6 L714.1 136.1 L715.0 135.5 L715.8 134.9 L716.7 134.3 L717.6 133.8 L718.5 133.2 L719.4 132.6 L720.2 132.0 L721.1 131.5 L722.0 130.9 L722.9 130.3 L723.8 129.7 L724.6 129.2 L725.5 128.6 L726.4 128.0 L727.3 127.4 L728.1 126.8 L729.0 126.3 L729.9 125.7 L730.8 125.1 L731.6 124.5 L732.5 124.0 L733.4 123.4 L734.3 122.8 L735.1 122.2 L736.0 121.6 L736.9 121.1 L737.8 120.5 L738.6 119.9 L739.5 119.3 L740.4 118.7 L741.3 118.1 L742.1 117.6 L743.0 117.0 L743.9 116.4 L744.8 115.8 L745.6 115.2 L746.5 114.7 L747.4 114.1 L748.2 113.5 L749.1 112.9 L750.0 112.3 L750.9 111.7 L751.7 111.2 L752.6 110.6 L753.5 110.0 L754.4 109.4 L755.2 108.8 L756.1 108.3 L757.0 107.7 L757.9 107.1 L758.7 106.5 L759.6 105.9 L760.5 105.3 L761.3 104.8 L762.2 104.2 L763.1 103.6 L764.0 103.0 L764.8 102.4 L765.7 101.9 L766.6 101.3 L767.5 100.7 L768.3 100.1 L769.2 99.5 L770.1 98.9 L771.0 98.4 L771.8 97.8 L772.7 97.2 L773.6 96.6 L774.5 96.0 L775.3 95.5 L776.2 94.9 L777.1 94.3 L778.0 93.7 L778.8 93.1 L779.7 92.5 L780.6 92.0 L781.4 91.4 L782.3 90.8 L783.2 90.2 L784.1 89.6 L784.9 89.1 L785.8 88.5 L786.7 87.9 L787.6 87.3 L788.4 86.7 L789.3 86.1 L790.2 85.6 L791.1 85.0 L791.9 84.4 L792.8 83.8 L793.7 83.2 L794.6 82.7 L795.4 82.1 L796.3 81.5 L797.2 80.9 L798.1 80.3 L798.9 79.7 L799.8 79.2 L800.7 78.6 L801.5 78.0 L802.4 77.4 L803.3 76.8 L804.2 76.3 L805.0 75.7 L805.9 75.1 L806.8 74.5 L807.7 73.9 L808.5 73.3 L809.4 72.8 L810.3 72.2 L811.2 71.6 L812.0 71.0 L812.9 70.4 L813.8 69.9 L814.6 69.3 L815.5 68.7 L816.4 68.1 L817.3 67.5 L818.1 66.9 L819.0 66.4 L819.9 65.8 L820.8 65.2 L821.6 64.6 L822.5 64.0 L823.4 63.4 L824.3 62.9 L825.1 62.3 L826.0 61.7" stroke="#0000ff" stroke-width="4.0" stroke-linecap="round"/>
<path d="M504.0 318.8 L506.0 318.4 L507.9 317.9 L509.7 317.0 L511.4 315.9 L513.0 314.6 L514.6 313.4 L516.2 312.1 L517.7 310.8 L519.2 309.4 L520.6 308.0 L522.1 306.6 L523.6 305.2 L525.0 303.8 L526.4 302.3 L527.7 300.8 L529.0 299.3 L530.2 297.7 L531.5 296.1 L532.7 294.4 L533.8 292.8 L535.0 291.1 L536.1 289.4 L537.2 287.8 L538.3 286.1 L539.5 284.4 L540.7 282.8 L541.9 281.2 L543.1 279.6 L544.3 278.0 L545.4 276.3 L546.5 274.6 L547.6 272.9 L548.7 271.2 L549.9 269.6 L551.2 268.0 L552.5 266.5 L553.8 265.0 L555.2 263.5 L556.6 262.0 L557.9 260.6 L559.4 259.1 L560.8 257.7 L562.2 256.2 L563.6 254.8 L565.0 253.4 L566.4 251.9 L567.9 250.5 L569.3 249.1 L570.7 247.7 L572.1 246.2 L573.6 244.8 L575.0 243.4 L576.4 242.0 L577.9 240.6 L579.4 239.2 L580.9 237.8 L582.4 236.5 L583.9 235.2 L585.5 234.0 L587.2 232.9 L588.9 231.7 L590.6 230.6 L592.3 229.5 L594.0 228.4 L595.7 227.4 L597.4 226.4 L599.2 225.4 L601.0 224.5 L602.8 223.6 L604.6 222.8 L606.5 221.9 L608.3 221.2 L610.2 220.4 L612.1 219.6 L613.9 218.8 L615.8 218.0 L617.6 217.1 L619.4 216.2 L621.2 215.3 L623.0 214.4 L624.8 213.5 L626.6 212.6 L628.4 211.6 L630.2 210.7 L631.9 209.8 L633.7 208.9 L635.5 207.9 L637.3 206.9 L639.0 205.9 L640.8 204.9 L642.5 203.9 L644.2 202.8 L645.9 201.7 L647.6 200.6 L649.3 199.5 L651.0 198.4 L652.7 197.3 L654.3 196.2 L656.0 195.1 L657.7 193.9 L659.4 192.8 L661.1 191.7 L662.8 190.6 L664.5 189.5 L666.2 188.5 L667.9 187.4 L669.6 186.3 L671.3 185.3 L673.1 184.2 L674.8 183.2 L676.5 182.2 L678.2 181.1 L680.0 180.1 L681.7 179.0 L683.4 178.0 L685.2 177.0 L686.9 175.9 L688.6 174.9 L690.3 173.8 L692.0 172.8 L693.8 171.7 L695.5 170.6 L697.2 169.6 L698.9 168.5 L700.6 167.4 L702.3 166.3 L704.0 165.2 L705.7 164.1 L707.4 163.0 L709.1 161.9 L710.7 160.8 L712.4 159.7 L714.1 158.6 L715.8 157.5 L717.5 156.4 L719.2 155.3 L720.9 154.2 L722.6 153.1 L724.2 152.0 L725.9 150.9 L727.6 149.8 L729.3 148.7 L731.0 147.6 L732.7 146.5 L734.4 145.4 L736.1 144.3 L737.8 143.2 L739.4 142.1 L741.1 141.0 L742.8 139.9 L744.5 138.8 L746.2 137.7 L747.9 136.6 L749.6 135.5 L751.3 134.4 L753.0 133.3 L754.6 132.2 L756.3 131.1 L758.0 130.0 L759.7 128.9 L761.4 127.8 L763.1 126.7 L764.8 125.6 L766.5 124.5 L768.2 123.4 L769.9 122.3 L771.6 121.2 L773.3 120.1 L775.0 119.0 L776.7 117.9 L778.4 116.8 L780.1 115.7 L781.8 114.7 L783.5 113.6 L785.2 112.5 L786.9 111.4 L788.6 110.3 L790.3 109.2 L792.0 108.1 L793.7 107.0 L795.4 106.0 L797.1 104.9 L798.8 103.8 L800.5 102.7 L802.2 101.6 L803.9 100.5 L805.6 99.5 L807.3 98.4 L809.0 97.3 L810.7 96.2 L812.4 95.1 L814.1 94.1 L815.8 93.0 L817.5 91.9 L819.2 90.8 L820.9 89.7 L822.6 88.7 L824.3 87.6 L826.0 86.5" stroke="#000" stroke-width="4.0" stroke-linecap="round" stroke-dasharray="2.2 6.8" stroke-dashoffset="-2.9"/>
</g>
<g stroke="#000" stroke-width="2.0" fill="none" stroke-linecap="butt">
<rect x="503.7" y="14.1" width="322.6" height="322.8"/>
<path d="M575.2 14.1 v11.3 M575.2 336.8 v-11.3"/>
<path d="M646.9 14.1 v11.3 M646.9 336.8 v-11.3"/>
<path d="M718.6 14.1 v11.3 M718.6 336.8 v-11.3"/>
<path d="M790.3 14.1 v11.3 M790.3 336.8 v-11.3"/>
<path d="M539.4 14.1 v6.3 M539.4 336.8 v-6.3"/>
<path d="M611.0 14.1 v6.3 M611.0 336.8 v-6.3"/>
<path d="M682.8 14.1 v6.3 M682.8 336.8 v-6.3"/>
<path d="M754.5 14.1 v6.3 M754.5 336.8 v-6.3"/>
<path d="M503.7 317.9 h11.3 M826.3 317.9 h-11.3"/>
<path d="M503.7 241.9 h11.3 M826.3 241.9 h-11.3"/>
<path d="M503.7 166.0 h11.3 M826.3 166.0 h-11.3"/>
<path d="M503.7 90.0 h11.3 M826.3 90.0 h-11.3"/>
<path d="M503.7 279.9 h6.3 M826.3 279.9 h-6.3"/>
<path d="M503.7 203.9 h6.3 M826.3 203.9 h-6.3"/>
<path d="M503.7 128.0 h6.3 M826.3 128.0 h-6.3"/>
<path d="M503.7 52.0 h6.3 M826.3 52.0 h-6.3"/>
</g>
<g font-family="'Liberation Serif', serif" fill="#000" filter="url(#gray)">
<text x="71.3" y="344.0" font-size="31" text-anchor="end">20</text>
<text x="71.3" y="282.5" font-size="31" text-anchor="end">40</text>
<text x="71.3" y="221.0" font-size="31" text-anchor="end">60</text>
<text x="71.3" y="159.6" font-size="31" text-anchor="end">80</text>
<text x="71.3" y="98.1" font-size="31" text-anchor="end">100</text>
<text x="71.3" y="36.6" font-size="31" text-anchor="end">120</text>
<text x="82.9" y="372.6" font-size="31" text-anchor="middle">0</text>
<text x="180.6" y="372.6" font-size="31" text-anchor="middle">100</text>
<text x="278.3" y="372.6" font-size="31" text-anchor="middle">200</text>
<text x="376.0" y="372.6" font-size="31" text-anchor="middle">300</text>
<text x="230.8" y="405.3" font-size="30" text-anchor="middle"><tspan font-style="italic">x</tspan> (µ<tspan dx="2.3">m)</tspan></text>
<text transform="translate(20.7 171.8) rotate(-90)" font-size="30" text-anchor="middle"><tspan font-style="italic">T</tspan> (K)</text>
<text x="109.5" y="58" font-size="30">(a)</text>
<text x="331.5" y="51.6" font-size="26">20<tspan dx="5.0">K</tspan></text>
<text x="331.5" y="82.6" font-size="26">30<tspan dx="5.0">K</tspan></text>
<text x="331.5" y="113.6" font-size="26">42<tspan dx="5.0">K</tspan></text>
<rect x="290" y="120" width="21" height="22" fill="#fff"/>
<text x="291" y="140" font-size="30" font-style="italic">T</text>
<text x="308.3" y="152.9" font-size="18" font-style="italic">c</text>
<text x="492.4" y="325.1" font-size="31" text-anchor="end">0</text>
<text x="492.4" y="249.1" font-size="31" text-anchor="end">10</text>
<text x="492.4" y="173.2" font-size="31" text-anchor="end">20</text>
<text x="492.4" y="97.2" font-size="31" text-anchor="end">30</text>
<text x="492.4" y="21.3" font-size="31" text-anchor="end">40</text>
<text x="504.4" y="372.6" font-size="31" text-anchor="middle">0</text>
<text x="576.1" y="372.6" font-size="31" text-anchor="middle">10</text>
<text x="647.8" y="372.6" font-size="31" text-anchor="middle">20</text>
<text x="719.5" y="372.6" font-size="31" text-anchor="middle">30</text>
<text x="791.2" y="372.6" font-size="31" text-anchor="middle">40</text>
<text x="613.25" y="405.7" font-size="30"><tspan font-style="italic">I</tspan><tspan dx="1.25" letter-spacing="0.58"> (mA)</tspan></text>
<text transform="translate(444.0 227.6) rotate(-90)" font-size="30"><tspan font-style="italic">P</tspan><tspan dx="1.2" letter-spacing="0.7"> (mW)</tspan></text>
<text x="527.4" y="56" font-size="30">(b)</text>
</g>
</svg>
</body></html>
